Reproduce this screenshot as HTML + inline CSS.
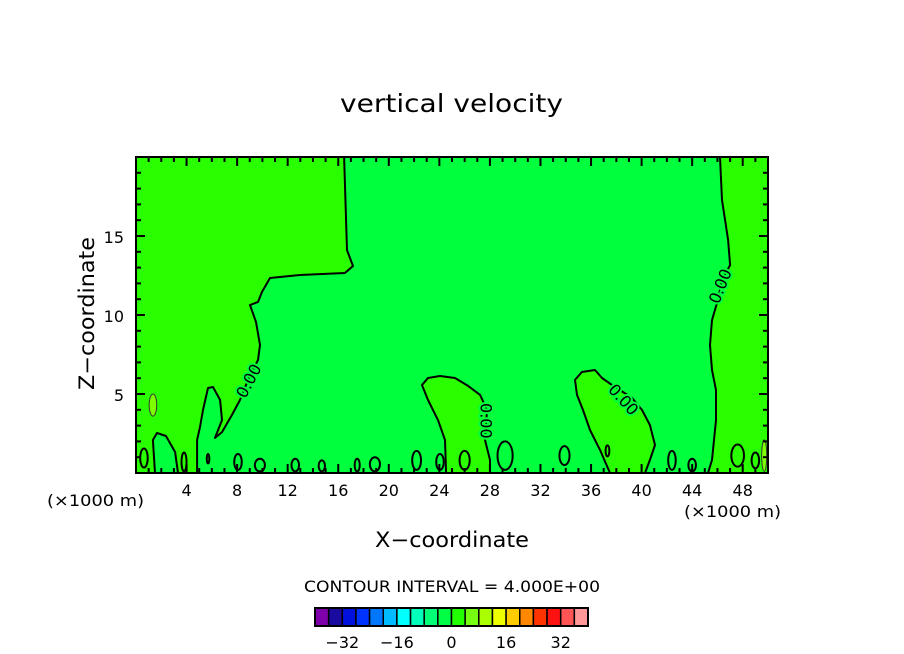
<!DOCTYPE html>
<html><head><meta charset="utf-8"><style>
body{margin:0;background:#fff}
svg{display:block;font-family:"DejaVu Sans","Liberation Sans",sans-serif}
</style></head><body>
<svg id="c" width="904" height="654" viewBox="0 0 904 654">
<text x="340" y="112" font-size="25" textLength="223" lengthAdjust="spacingAndGlyphs">vertical velocity</text>
<g id="plot"></g>
<g id="axes"></g>
<text x="47" y="506" font-size="16" textLength="97" lengthAdjust="spacingAndGlyphs">(×1000 m)</text>
<text x="684" y="517" font-size="16" textLength="97" lengthAdjust="spacingAndGlyphs">(×1000 m)</text>
<text x="375" y="547" font-size="21" textLength="154" lengthAdjust="spacingAndGlyphs">X−coordinate</text>
<text transform="translate(94,390) rotate(-90)" font-size="21" textLength="153" lengthAdjust="spacingAndGlyphs">Z−coordinate</text>
<text x="304" y="592" font-size="16" textLength="296" lengthAdjust="spacingAndGlyphs">CONTOUR INTERVAL = 4.000E+00</text>
<g id="cbar"></g>
</svg>
<script>
const xTicks=[4,8,12,16,20,24,28,32,36,40,44,48];
const yTicks=[5,10,15];
const leftRegion=[[0,20],[16.46,20],[16.69,14.11],[17.17,13.1],[16.53,12.66],[12.97,12.53],[10.6,12.34],[9.97,11.46],[9.65,10.82],[9.02,10.63],[9.49,9.56],[9.81,8.1],[9.65,7.15],[8.86,5.89],[8.23,4.62],[7.59,3.67],[6.8,2.59],[6.25,2.22],[6.8,3.35],[6.65,4.62],[6.09,5.44],[5.7,5.38],[5.3,3.99],[5.06,2.91],[4.83,2.09],[4.83,0],[3.32,0],[3.09,1.33],[2.37,2.34],[1.66,2.53],[1.34,2.09],[1.5,0],[0,0]];
const rightRegion=[[46.2,20],[46.36,17.28],[46.84,14.75],[47,13.16],[46.36,12.22],[46.04,10.95],[45.57,9.68],[45.41,8.1],[45.57,6.52],[45.89,5.25],[45.89,3.35],[45.57,0.82],[45.25,0],[50,0],[50,20]];
const bumpA=[[22.63,5.57],[23.1,6.01],[24.05,6.14],[25.24,6.01],[26.27,5.51],[27.22,4.94],[27.77,3.99],[27.61,2.09],[28.01,0.82],[28.01,0],[24.53,0],[24.45,2.09],[23.89,3.35],[23.1,4.62]];
const bumpB=[[34.73,5.89],[35.28,6.39],[36.31,6.52],[36.87,6.01],[37.66,5.57],[39.24,4.75],[40.03,3.99],[40.66,3.04],[41.06,1.77],[40.66,0.82],[40.27,0],[37.5,0],[36.71,1.46],[35.92,2.72],[35.36,3.99],[34.89,4.94]];
const loops=[[0.63,0.95,0.3,0.6],[3.8,0.7,0.2,0.6],[5.7,0.9,0.1,0.3],[8.07,0.7,0.3,0.5],[9.8,0.5,0.4,0.4],[12.6,0.5,0.3,0.4],[14.7,0.45,0.25,0.35],[17.5,0.5,0.2,0.4],[18.9,0.55,0.4,0.45],[22.2,0.8,0.35,0.6],[24.05,0.7,0.3,0.5],[26,0.8,0.4,0.6],[29.2,1.1,0.6,0.9],[33.9,1.1,0.4,0.6],[37.3,1.4,0.15,0.35],[42.4,0.8,0.3,0.6],[44,0.5,0.3,0.4],[47.6,1.1,0.5,0.7],[49,0.8,0.3,0.5]];
const blobs=[[1.34,4.3,0.3,0.7],[49.7,1.1,0.2,1]];
const labels=[[9.0,5.8,-62],[27.6,3.3,90],[38.5,4.6,48],[46.3,11.8,-68]];
const cbColors=["#7f00aa","#1a0aa0","#0010dd","#0033ff","#0077ff","#00bbff","#00ffff","#00ffbb","#00ff77","#00ff44","#22ff00","#77ff11","#aaff00","#eeff00","#ffcc00","#ff8800","#ff3300","#ff1111","#ff5555","#ff9999"];
const cbLabels=[-32,-16,0,16,32];
const X0=136,X1=768,Y0=473,Y1=157;
const sx=x=>X0+(X1-X0)*x/50, sy=z=>Y0-(Y0-Y1)*z/20;
const NS="http://www.w3.org/2000/svg";
function mk(t,a,p){const e=document.createElementNS(NS,t);for(const k in a)e.setAttribute(k,a[k]);p.appendChild(e);return e;}
const plot=document.getElementById('plot'),axes=document.getElementById('axes'),cb=document.getElementById('cbar');
const bg=mk('rect',{x:X0,y:Y1,width:X1-X0,height:Y0-Y1,fill:'#00ff3c'},plot);


const pts=a=>a.map(p=>sx(p[0]).toFixed(1)+','+sy(p[1]).toFixed(1)).join(' ');
[['left-positive-region',leftRegion],['right-positive-region',rightRegion],['bump-a-region',bumpA],['bump-b-region',bumpB]].forEach(([n,a])=>{
 const e=mk('polygon',{points:pts(a),fill:'#2aff00',stroke:'#000','stroke-width':2,'stroke-linejoin':'round'},plot);
 
 
});
loops.forEach(l=>{
 const e=mk('ellipse',{cx:sx(l[0]),cy:sy(l[1]),rx:(X1-X0)*l[2]/50,ry:(Y0-Y1)*l[3]/20,fill:'none',stroke:'#000','stroke-width':2},plot);
 
 
});
blobs.forEach(l=>{
 const e=mk('ellipse',{cx:sx(l[0]),cy:sy(l[1]),rx:(X1-X0)*l[2]/50,ry:(Y0-Y1)*l[3]/20,fill:'#7dff00',stroke:'#333','stroke-width':1},plot);
 
 
});
labels.forEach(l=>{
 const x=sx(l[0]),y=sy(l[1]);
 const e=mk('text',{x:x,y:y,'font-size':16,'text-anchor':'middle','dominant-baseline':'middle',transform:`rotate(${l[2]} ${x} ${y})`,stroke:'#00ff3c','stroke-width':4,'paint-order':'stroke'},plot);
 e.textContent='0.00';
 
 
});
const fr=mk('rect',{x:X0,y:Y1,width:X1-X0,height:Y0-Y1,fill:'none',stroke:'#000','stroke-width':2},axes);


for(let x=1;x<50;x++){const maj=x%4===0,L=maj?9:5;
 mk('line',{x1:sx(x),x2:sx(x),y1:Y0,y2:Y0-L,stroke:'#000','stroke-width':2},axes);
 mk('line',{x1:sx(x),x2:sx(x),y1:Y1,y2:Y1+L,stroke:'#000','stroke-width':2},axes);}
for(let z=1;z<20;z++){const maj=z%5===0,L=maj?9:5;
 mk('line',{x1:X0,x2:X0+L,y1:sy(z),y2:sy(z),stroke:'#000','stroke-width':2},axes);
 mk('line',{x1:X1,x2:X1-L,y1:sy(z),y2:sy(z),stroke:'#000','stroke-width':2},axes);}
xTicks.forEach(v=>{const t=mk('text',{x:sx(v),y:Y0+23,'font-size':16,'text-anchor':'middle'},axes);t.textContent=v;
 
 });
yTicks.forEach(v=>{const t=mk('text',{x:X0-12,y:sy(v)+7,'font-size':16,'text-anchor':'end'},axes);t.textContent=v;
 
 });
const cx0=315,cw=13.65,cy=608,ch=18;
cbColors.forEach((c,i)=>{const r=mk('rect',{x:cx0+i*cw,y:cy,width:cw,height:ch,fill:c,stroke:'#000','stroke-width':1.5},cb);
 
 });
const co=mk('rect',{x:cx0,y:cy,width:cw*cbColors.length,height:ch,fill:'none',stroke:'#000','stroke-width':2},cb);


cbLabels.forEach(v=>{const idx=(v+40)/4;const t=mk('text',{x:cx0+idx*cw,y:648,'font-size':16,'text-anchor':'middle'},cb);t.textContent=v<0?'−'+(-v):v;
 
 });
</script>
</body></html>
